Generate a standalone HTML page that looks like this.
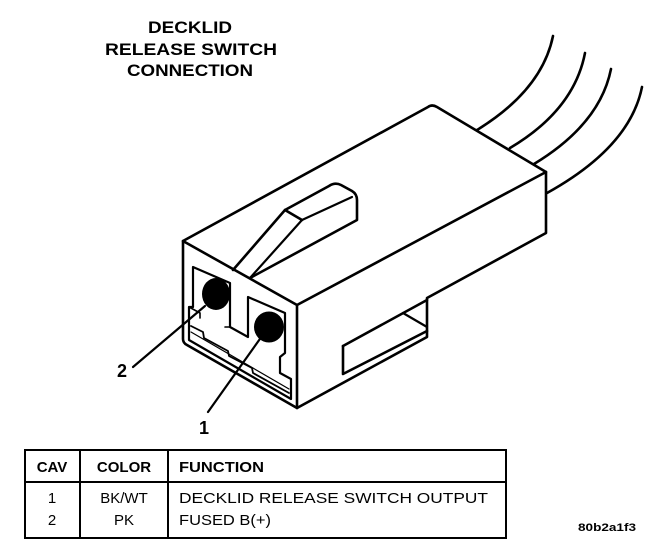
<!DOCTYPE html>
<html><head><meta charset="utf-8"><style>
html,body{margin:0;padding:0;background:#fff;}
svg{display:block;}
text{font-family:"Liberation Sans",Arial,sans-serif;fill:#000;}
</style></head><body>
<svg width="672" height="556" viewBox="0 0 672 556" xmlns="http://www.w3.org/2000/svg">
<rect width="672" height="556" fill="#fff"/>
<!-- Title -->
<g font-weight="bold" font-size="17">
<text x="148" y="33" textLength="84" lengthAdjust="spacingAndGlyphs">DECKLID</text>
<text x="105" y="55" textLength="172" lengthAdjust="spacingAndGlyphs">RELEASE SWITCH</text>
<text x="127" y="76" textLength="126" lengthAdjust="spacingAndGlyphs">CONNECTION</text>
</g>

<g fill="none" stroke="#000" stroke-width="2.6" stroke-linejoin="round" stroke-linecap="round">
<!-- wires -->
<path d="M477,130 Q542,90 553,36"/>
<path d="M510,148 Q574,110 585,53"/>
<path d="M534,164 Q600,124 611,69"/>
<path d="M547,193 Q630,147 642,87"/>
<!-- top face -->
<path d="M183,241 L428,107 Q432,104 437,107 L546,172" fill="#fff"/>
<!-- side face -->
<path d="M297,305 L546,172 L546,233 L427,298 L427,337 L297,408"/>
<!-- front face -->
<path d="M183,241 L297,305 L297,408 L187,345 Q183,343 183,339 Z"/>
<!-- lever -->
<path d="M233,270 L285,210 L302,220"/>
<path d="M285,210 L329,186 Q335,182 341,185 L352,191 Q357,194 357,200 L357,220 L250,278"/>
<path d="M302,220 L352,197" stroke-width="2.2"/>
<path d="M302,220 L250,278" stroke-width="2.2"/>
<!-- slot -->
<path d="M343,346 L427,300"/>
<path d="M343,346 L343,374 L427,331"/>
<path d="M403,313 L427,327" stroke-width="2.2"/>
<!-- cavities -->
<path d="M193,267 L230,283 L230,327 L248,337 L248,297 L285,313 L285,353 L280,357 L280,373 L291,379 L291,399 L189,340 L189,307 L193,307 Z" stroke-width="2.2"/>
<!-- ledge lines -->
<path d="M191,326 L203,332 L204,338 L228,351 L229,356 L252,368 L253,373 L289,393" stroke-width="1.8"/>
<path d="M191,332 L289,389" stroke-width="1.2"/>
<path d="M189,307 L200,313 L200,318 M225,327 L230,327" stroke-width="1.6"/>
<!-- leaders -->
<path d="M133,367 L205,306" stroke-width="2.2"/>
<path d="M208,412 L262,336" stroke-width="2.2"/>
</g>
<!-- pins -->
<ellipse cx="216" cy="294" rx="14" ry="16" fill="#000"/>
<ellipse cx="269" cy="327" rx="15" ry="15.5" fill="#000"/>

<!-- numbers -->
<g font-weight="bold" font-size="18">
<text x="117" y="377">2</text>
<text x="199" y="434">1</text>
</g>

<!-- table -->
<g fill="none" stroke="#000" stroke-width="2">
<rect x="25" y="450" width="481" height="88"/>
<line x1="25" y1="482" x2="506" y2="482"/>
<line x1="80" y1="450" x2="80" y2="538"/>
<line x1="168" y1="450" x2="168" y2="538"/>
</g>
<g font-weight="bold" font-size="15">
<text x="52" y="472" text-anchor="middle">CAV</text>
<text x="124" y="472" text-anchor="middle">COLOR</text>
<text x="179" y="472" textLength="85" lengthAdjust="spacingAndGlyphs">FUNCTION</text>
</g>
<g font-size="15">
<text x="52" y="503" text-anchor="middle">1</text>
<text x="52" y="525" text-anchor="middle">2</text>
<text x="124" y="503" text-anchor="middle">BK/WT</text>
<text x="124" y="525" text-anchor="middle">PK</text>
<text x="179" y="503" textLength="309" lengthAdjust="spacingAndGlyphs">DECKLID RELEASE SWITCH OUTPUT</text>
<text x="179" y="525" textLength="92" lengthAdjust="spacingAndGlyphs">FUSED B(+)</text>
</g>
<text x="578" y="531" font-size="11" font-weight="bold" textLength="58" lengthAdjust="spacingAndGlyphs">80b2a1f3</text>
</svg>
</body></html>
